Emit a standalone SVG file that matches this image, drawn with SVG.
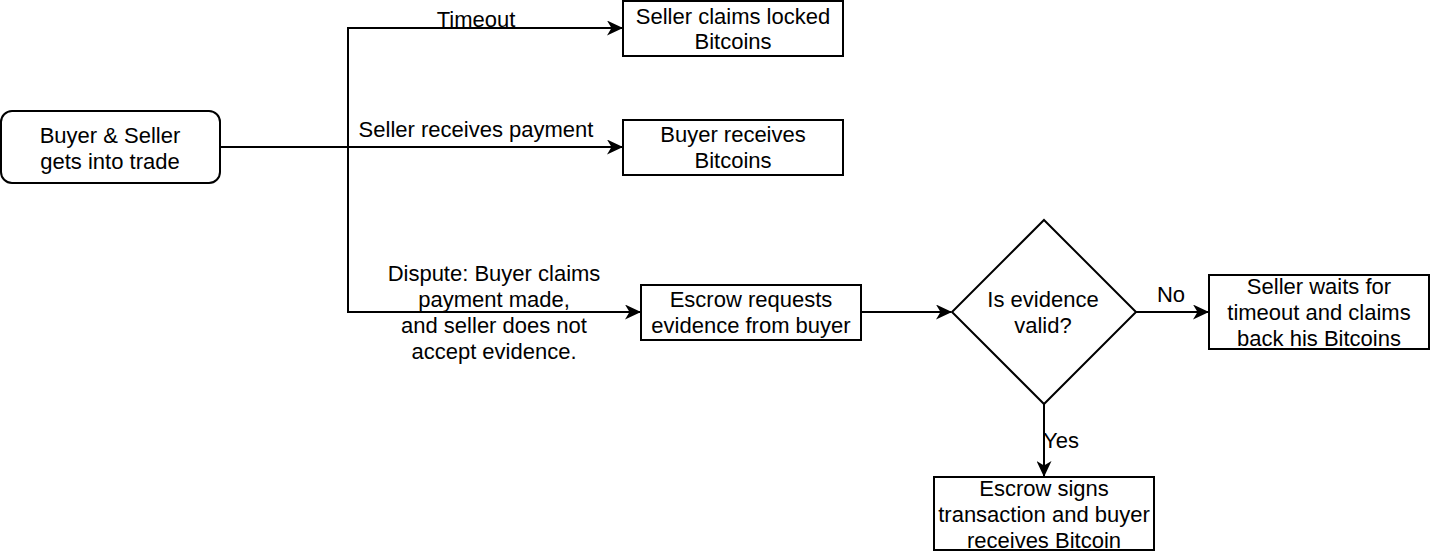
<svg xmlns="http://www.w3.org/2000/svg" width="1431" height="553" viewBox="0 0 1431 553">
<defs>
<marker id="arr" viewBox="0 0 16 15" refX="15" refY="7.5" markerWidth="16" markerHeight="15" markerUnits="userSpaceOnUse" orient="auto">
<path d="M0,0 L16,7.5 L0,15 L4.5,7.5 Z" fill="#000"/>
</marker>
<style>
text{font-family:"Liberation Sans",Arial,sans-serif;font-size:22px;fill:#000;text-anchor:middle}
.box{fill:#fff;stroke:#000;stroke-width:2}
.edge{fill:none;stroke:#000;stroke-width:2}
</style>
</defs>
<rect width="1431" height="553" fill="#fff"/>
<g id="connectors">
<path class="edge" d="M220,147 L622,147" marker-end="url(#arr)"/>
<path class="edge" d="M348,147 L348,28 L622,28" marker-end="url(#arr)"/>
<path class="edge" d="M348,147 L348,312 L640,312" marker-end="url(#arr)"/>
<path class="edge" d="M861,312 L951,312" marker-end="url(#arr)"/>
<path class="edge" d="M1136,312 L1208,312" marker-end="url(#arr)"/>
<path class="edge" d="M1044,404 L1044,476" marker-end="url(#arr)"/>
<text x="476" y="27">Timeout</text>
<text x="476" y="137">Seller receives payment</text>
<text x="494" y="281">Dispute: Buyer claims</text>
<text x="494" y="307">payment made,</text>
<text x="494" y="333">and seller does not</text>
<text x="494" y="359">accept evidence.</text>
<text x="1171" y="302">No</text>
<text x="1061" y="448">Yes</text>
</g>
<g id="start">
<rect class="box" x="1" y="111" width="219" height="72" rx="11"/>
<text x="110" y="143">Buyer &amp; Seller</text>
<text x="110" y="169">gets into trade</text>
</g>
<g id="seller-claims">
<rect class="box" x="623" y="1" width="220" height="55"/>
<text x="733" y="24">Seller claims locked</text>
<text x="733" y="49">Bitcoins</text>
</g>
<g id="buyer-receives">
<rect class="box" x="623" y="120" width="220" height="55"/>
<text x="733" y="142">Buyer receives</text>
<text x="733" y="168">Bitcoins</text>
</g>
<g id="escrow-requests">
<rect class="box" x="641" y="285" width="220" height="55"/>
<text x="751" y="307">Escrow requests</text>
<text x="751" y="333">evidence from buyer</text>
</g>
<g id="decision">
<path class="box" d="M1044,220 L1136,312 L1044,404 L952,312 Z"/>
<text x="1043" y="307">Is evidence</text>
<text x="1043" y="333">valid?</text>
</g>
<g id="seller-waits">
<rect class="box" x="1209" y="275" width="220" height="74"/>
<text x="1319" y="294">Seller waits for</text>
<text x="1319" y="320">timeout and claims</text>
<text x="1319" y="346">back his Bitcoins</text>
</g>
<g id="escrow-signs">
<rect class="box" x="934" y="477" width="220" height="73"/>
<text x="1044" y="496">Escrow signs</text>
<text x="1044" y="522">transaction and buyer</text>
<text x="1044" y="548">receives Bitcoin</text>
</g>
</svg>
